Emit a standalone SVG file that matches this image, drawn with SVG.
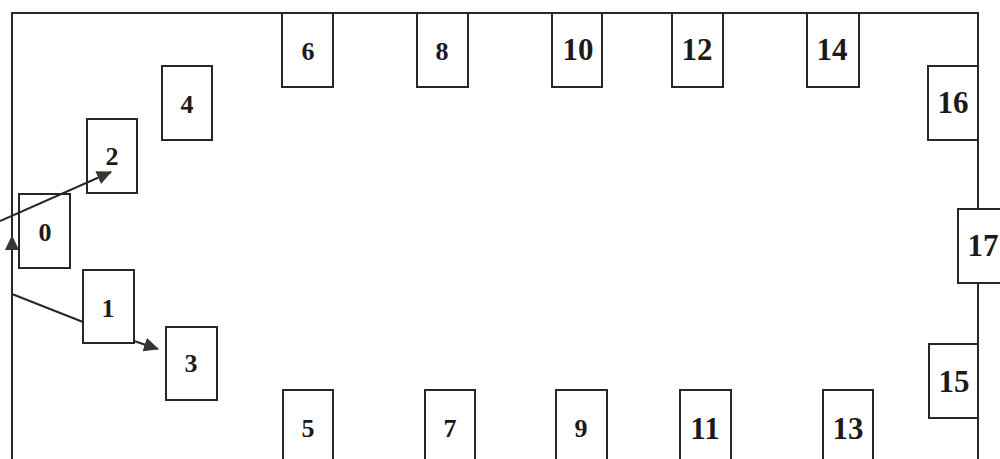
<svg xmlns="http://www.w3.org/2000/svg" width="1000" height="459" viewBox="0 0 1000 459">
<style>
.frame{fill:none;stroke:#2b2626;stroke-width:2}
.box{fill:#fff;stroke:#2b2626;stroke-width:2}
.lbl{font-family:"Liberation Serif","Times New Roman",serif;font-weight:bold;fill:#1e1a1a;text-anchor:middle}
.s{font-size:26px}
.l{font-size:31px}
.conn{fill:none;stroke:#2b2626;stroke-width:2}
</style>
<defs>
<marker id="arr" viewBox="0 0 15 14" refX="14" refY="7" markerWidth="15" markerHeight="14" markerUnits="userSpaceOnUse" orient="auto">
<path d="M0,0 L15,7 L0,14 Z" fill="#3a3535"/>
</marker>
</defs>
<rect width="1000" height="459" fill="#fff"/>
<path class="frame" d="M12,470 L12,13 L978,13 L978,470"/>
<g id="node0"><rect class="box" x="19" y="194" width="51" height="74"/><text class="lbl s" x="45" y="241">0</text></g>
<g id="node1"><rect class="box" x="83" y="270" width="51" height="73"/><text class="lbl s" x="108" y="317">1</text></g>
<g id="node2"><rect class="box" x="87" y="119" width="50" height="74"/><text class="lbl s" x="112" y="165">2</text></g>
<g id="node3"><rect class="box" x="166" y="327" width="51" height="73"/><text class="lbl s" x="191" y="372">3</text></g>
<g id="node4"><rect class="box" x="162" y="66" width="50" height="74"/><text class="lbl s" x="187" y="113">4</text></g>
<g id="node5"><rect class="box" x="283" y="390" width="50" height="74"/><text class="lbl s" x="308" y="437">5</text></g>
<g id="node6"><rect class="box" x="282" y="13" width="51" height="74"/><text class="lbl s" x="308" y="60">6</text></g>
<g id="node7"><rect class="box" x="425" y="390" width="50" height="74"/><text class="lbl s" x="450" y="437">7</text></g>
<g id="node8"><rect class="box" x="417" y="13" width="51" height="74"/><text class="lbl s" x="442" y="60">8</text></g>
<g id="node9"><rect class="box" x="556" y="390" width="51" height="74"/><text class="lbl s" x="581" y="437">9</text></g>
<g id="node10"><rect class="box" x="552" y="13" width="50" height="74"/><text class="lbl l" x="578" y="60">10</text></g>
<g id="node11"><rect class="box" x="680" y="390" width="51" height="74"/><text class="lbl l" x="705" y="439">11</text></g>
<g id="node12"><rect class="box" x="672" y="13" width="51" height="74"/><text class="lbl l" x="697" y="60">12</text></g>
<g id="node13"><rect class="box" x="823" y="390" width="50" height="74"/><text class="lbl l" x="848" y="439">13</text></g>
<g id="node14"><rect class="box" x="807" y="13" width="52" height="74"/><text class="lbl l" x="832" y="60">14</text></g>
<g id="node15"><rect class="box" x="929" y="344" width="49" height="74"/><text class="lbl l" x="954" y="392">15</text></g>
<g id="node16"><rect class="box" x="928" y="66" width="50" height="74"/><text class="lbl l" x="953" y="113">16</text></g>
<g id="node17"><rect class="box" x="958" y="209" width="50" height="74"/><text class="lbl l" x="983" y="256">17</text></g>
<g id="connectors">
<path class="conn" d="M0,221 L111,172" marker-end="url(#arr)"/>
<path class="conn" d="M83,322 L12,294 L12,236" marker-end="url(#arr)"/>
<path class="conn" d="M134,341 L158,349" marker-end="url(#arr)"/>
</g>
</svg>
